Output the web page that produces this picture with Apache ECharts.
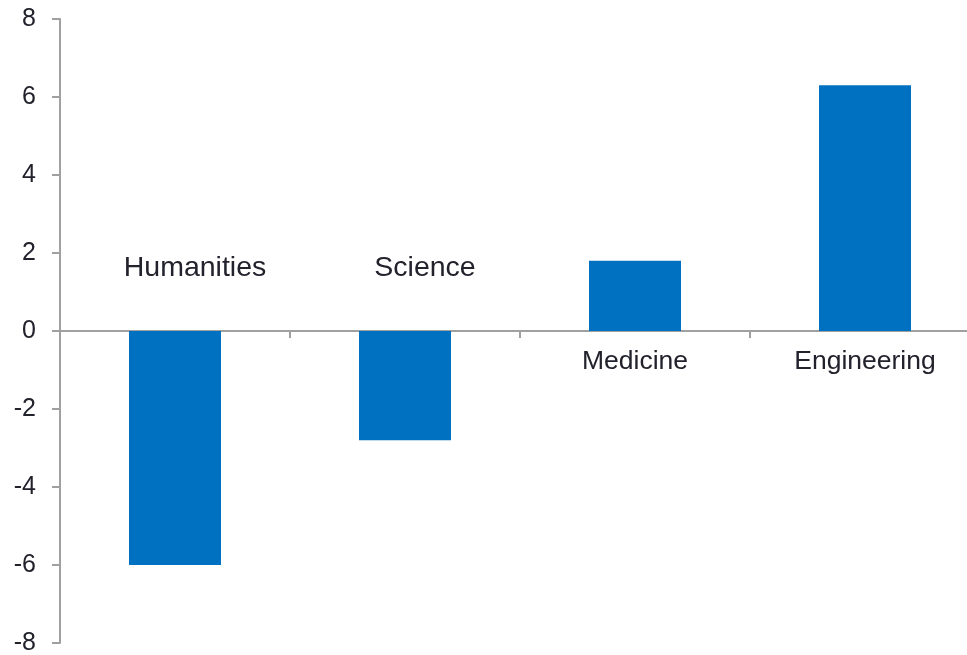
<!DOCTYPE html>
<html>
<head>
<meta charset="utf-8">
<script src="https://cdn.jsdelivr.net/npm/echarts@6/dist/echarts.min.js"></script>
<style>
  html, body { margin: 0; padding: 0; background: #fff; }
  #chart { width: 967px; height: 655px; }
</style>
</head>
<body>
<div id="chart"></div>
<script>
  // data
  const categories = ['Humanities', 'Science', 'Medicine', 'Engineering'];
  const values = [-6, -2.8, 1.8, 6.3];
  const yMin = -8;
  const yMax = 8;
  const yStep = 2;

  const axisGray = '#a0a0a0';
  const textColor = '#22222c';
  const font = '"Liberation Sans", Arial, Helvetica, sans-serif';

  let myChart = echarts.init(document.getElementById('chart'));

  // category names sit on the other side of the axis from the bar
  let labelData = values.map(function (v) {
    return {
      value: 0,
      label: v < 0
        ? { offset: [20, -63], fontSize: 28.5 }
        : { offset: [0, 31], fontSize: 26.5 }
    };
  });

  myChart.setOption({
    animation: false,
    grid: {
      left: 60,
      right: -13,
      top: 19,
      bottom: 12,
      containLabel: false,
      outerBoundsMode: 'none'
    },
    xAxis: {
      type: 'category',
      data: categories,
      axisLine: { show: true, onZero: true, lineStyle: { color: axisGray, width: 2 } },
      axisTick: { show: true, length: 7, lineStyle: { color: axisGray, width: 2 } },
      axisLabel: { show: false },
      splitLine: { show: false }
    },
    yAxis: {
      type: 'value',
      min: yMin,
      max: yMax,
      interval: yStep,
      axisLine: { show: true, lineStyle: { color: axisGray, width: 2 } },
      axisTick: { show: true, length: 8, lineStyle: { color: axisGray, width: 2 } },
      axisLabel: { margin: 24, fontSize: 25, color: textColor, fontFamily: font },
      splitLine: { show: false }
    },
    series: [
      {
        type: 'bar',
        data: values,
        barWidth: '40%',
        itemStyle: { color: '#0070c0' }
      },
      {
        type: 'scatter',
        data: labelData,
        symbolSize: 0,
        silent: true,
        itemStyle: { opacity: 1 },
        label: {
          show: true,
          position: 'inside',
          formatter: function (p) { return categories[p.dataIndex]; },
          color: textColor,
          opacity: 1,
          textBorderWidth: 0,
          textBorderColor: 'transparent',
          fontFamily: font
        }
      }
    ]
  });
</script>
</body>
</html>
